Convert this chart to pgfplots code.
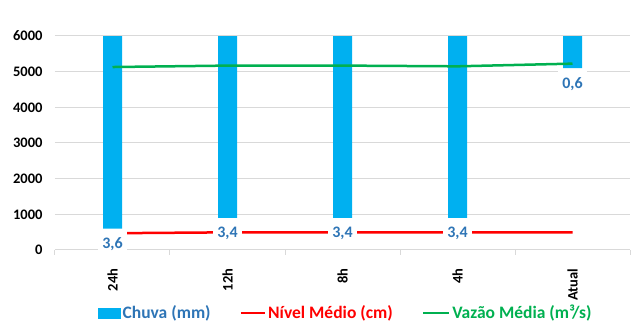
\documentclass[border=0pt]{standalone}
\usepackage{fontspec}
\setmainfont{Carlito}
\usepackage{pgfplots}
\pgfplotsset{compat=1.18}
\definecolor{barblue}{HTML}{00B0F0}
\definecolor{lblblue}{HTML}{2E75B6}
\definecolor{lred}{HTML}{FF0000}
\definecolor{lgreen}{HTML}{00B050}
\definecolor{gridgray}{HTML}{D9D9D9}
\pgfplotsset{
  base/.style={scale only axis, width=575pt, height=214pt, at={(55pt,73pt)},
    anchor=south west, xmin=-0.5, xmax=4.5},
}
\begin{document}
\begin{tikzpicture}
\useasboundingbox (0,0) rectangle (635pt,323pt);
% grid / ticks axis
\begin{axis}[base, ymin=0, ymax=6000, ytick={0,1000,...,6000},
  ymajorgrids, grid style={gridgray, line width=1pt},
  axis x line*=bottom, axis y line*=left,
  y axis line style={draw=none}, ytick style={draw=none},
  x axis line style={gridgray, line width=1pt},
  xtick={0,...,4}, xticklabels={24h,12h,8h,4h,Atual},
  major x tick style={draw=none},
  minor xtick={-0.5,0.5,...,4.5}, minor x tick style={gridgray, line width=1pt},
  minor tick length=5pt, xtick align=outside,
  /pgf/number format/assume math mode=true,
  /pgf/number format/1000 sep={},
  ticklabel style={font=\fontsize{14.5}{16}\selectfont\bfseries},
  yticklabel style={xshift=-9pt},
  xticklabel style={yshift=-11pt, rotate=90, anchor=east},
]
\end{axis}
% bars (secondary reversed axis)
\begin{axis}[base, hide axis, ymin=0, ymax=4, y dir=reverse, ybar, bar width=19pt, bar shift=0pt]
\addplot[fill=barblue, draw=none] coordinates {(0,3.6) (1,3.4) (2,3.4) (3,3.4) (4,0.6)};
\end{axis}
% lines
\begin{axis}[base, hide axis, ymin=0, ymax=6000]
\addplot[lred, line width=2.5pt] coordinates {(0,470) (1,495) (2,495) (3,495) (4,495)};
\addplot[lgreen, line width=2.5pt] coordinates {(0,5130) (1,5170) (2,5170) (3,5150) (4,5225)};
\end{axis}
% labels + legend
\begin{axis}[base, hide axis, ymin=0, ymax=4, y dir=reverse,
  legend style={at={(0.506,-0.294)}, anchor=center, draw=none, fill=none,
    legend columns=3, font=\fontsize{17.5}{19}\selectfont\bfseries,
    /tikz/every even column/.append style={column sep=27pt}},
]
\addlegendimage{legend image code/.code={\fill[barblue] (0pt,-5pt) rectangle (22pt,5pt);}}
\addlegendentry{\textcolor{lblblue}{Chuva (mm)}}
\addlegendimage{legend image code/.code={\draw[lred, line width=2.5pt] (0pt,0pt) -- (24pt,0pt);}}
\addlegendentry{\textcolor{lred}{Nível Médio (cm)}}
\addlegendimage{legend image code/.code={\draw[lgreen, line width=2.5pt] (0pt,0pt) -- (26pt,0pt);}}
\addlegendentry{\textcolor{lgreen}{Vazão Média (m³/s)}}
\addplot[draw=none, forget plot, nodes near coords, point meta=explicit symbolic,
  every node near coord/.style={anchor=north, fill=white, inner xsep=4pt, inner ysep=8pt,
    yshift=-1pt, text=lblblue, font=\fontsize{16}{18}\selectfont\bfseries}]
  coordinates {(0,3.6) [3,6] (1,3.4) [3,4] (2,3.4) [3,4] (3,3.4) [3,4] (4,0.6) [0,6]};
\end{axis}
\end{tikzpicture}
\end{document}
